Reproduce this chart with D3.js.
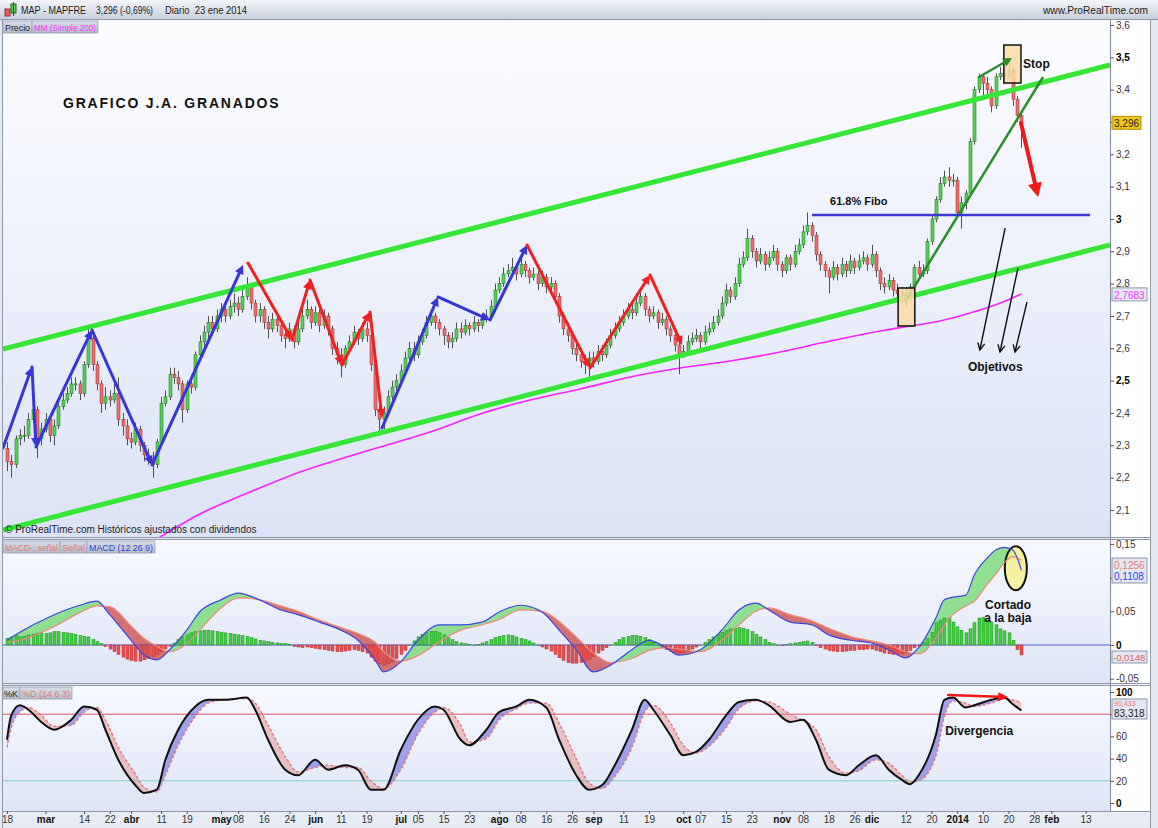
<!DOCTYPE html>
<html><head><meta charset="utf-8">
<script src="https://cdn.jsdelivr.net/npm/d3@7"></script>
<style>body{margin:0;background:#fff;}svg{display:block;font-family:"Liberation Sans",Arial,sans-serif;}</style>
</head><body><svg id="c" width="1158" height="828"></svg>
<script>
// ---------------- DATA ----------------
const holidays=["2013-03-29","2013-04-01","2013-05-01","2013-12-25","2013-12-26","2014-01-01"];
const firstOpen=2.29;
const closes=[
2.25,2.24,2.32,2.33,2.33,2.38,2.41,2.32,2.35,2.38,
2.33,2.36,2.42,2.44,2.46,2.49,2.49,2.46,2.55,2.63,
2.55,2.49,2.43,2.45,2.44,2.46,2.38,2.36,2.32,2.31,
2.35,2.30,2.27,2.26,2.24,2.31,2.43,2.45,2.52,2.51,
2.49,2.41,2.49,2.48,2.58,2.62,2.65,2.68,2.66,2.70,
2.72,2.70,2.73,2.74,2.72,2.76,2.79,2.74,2.70,2.72,
2.68,2.66,2.69,2.67,2.64,2.63,2.66,2.62,2.66,2.70,
2.72,2.68,2.71,2.67,2.70,2.66,2.60,2.58,2.55,2.60,
2.62,2.65,2.63,2.66,2.64,2.55,2.41,2.38,2.40,2.45,
2.48,2.50,2.53,2.57,2.60,2.58,2.62,2.64,2.68,2.70,
2.68,2.66,2.64,2.62,2.63,2.66,2.65,2.67,2.66,2.68,
2.67,2.69,2.70,2.73,2.78,2.80,2.83,2.84,2.85,2.83,
2.86,2.84,2.82,2.83,2.80,2.82,2.79,2.80,2.76,2.70,
2.66,2.64,2.60,2.58,2.56,2.55,2.57,2.56,2.59,2.58,
2.61,2.64,2.66,2.68,2.70,2.72,2.71,2.74,2.76,2.72,
2.70,2.71,2.68,2.69,2.66,2.64,2.61,2.58,2.59,2.62,
2.63,2.64,2.62,2.65,2.66,2.68,2.70,2.74,2.78,2.76,
2.80,2.86,2.88,2.94,2.90,2.87,2.89,2.86,2.88,2.90,
2.86,2.84,2.88,2.86,2.90,2.92,2.96,2.98,2.95,2.89,
2.86,2.84,2.82,2.85,2.83,2.86,2.84,2.87,2.85,2.87,
2.88,2.86,2.89,2.84,2.80,2.79,2.81,2.78,2.77,2.76,
2.77,2.79,2.85,2.83,2.84,2.93,3.00,3.06,3.11,3.13,
3.12,3.12,3.02,3.05,3.08,3.24,3.40,3.44,3.42,3.40,
3.35,3.44,3.45,3.44,3.46,3.37,3.32,3.296];
const highs=[
2.31,2.27,2.33,2.35,2.36,2.40,2.45,2.42,2.37,2.40,
2.39,2.38,2.43,2.46,2.48,2.51,2.51,2.50,2.56,2.66,
2.64,2.56,2.50,2.48,2.47,2.49,2.51,2.40,2.38,2.34,
2.37,2.36,2.31,2.29,2.28,2.32,2.45,2.47,2.54,2.54,
2.53,2.50,2.50,2.52,2.59,2.64,2.67,2.70,2.70,2.72,
2.74,2.74,2.75,2.77,2.76,2.78,2.82,2.80,2.75,2.74,
2.73,2.70,2.71,2.71,2.68,2.66,2.68,2.67,2.68,2.72,
2.75,2.73,2.73,2.72,2.72,2.71,2.67,2.62,2.60,2.61,
2.64,2.67,2.66,2.68,2.68,2.65,2.56,2.42,2.42,2.47,
2.50,2.52,2.55,2.59,2.62,2.62,2.64,2.66,2.70,2.72,
2.71,2.69,2.67,2.65,2.65,2.68,2.68,2.69,2.68,2.70,
2.69,2.71,2.72,2.75,2.80,2.82,2.85,2.86,2.88,2.86,
2.88,2.87,2.85,2.85,2.84,2.84,2.83,2.82,2.81,2.77,
2.71,2.68,2.65,2.62,2.60,2.58,2.59,2.59,2.61,2.61,
2.63,2.66,2.68,2.70,2.72,2.74,2.74,2.76,2.78,2.77,
2.73,2.73,2.72,2.71,2.70,2.67,2.65,2.62,2.61,2.64,
2.65,2.66,2.65,2.67,2.68,2.70,2.72,2.76,2.80,2.79,
2.82,2.88,2.90,2.97,2.95,2.91,2.91,2.90,2.90,2.92,
2.91,2.87,2.89,2.89,2.92,2.94,2.98,3.02,2.99,2.96,
2.90,2.87,2.85,2.87,2.86,2.88,2.87,2.89,2.88,2.89,
2.90,2.89,2.92,2.90,2.85,2.82,2.83,2.82,2.80,2.79,
2.79,2.80,2.86,2.87,2.86,2.94,3.01,3.07,3.13,3.15,
3.16,3.14,3.13,3.07,3.09,3.25,3.41,3.45,3.45,3.44,
3.41,3.45,3.47,3.47,3.49,3.47,3.38,3.33];
const lows=[
2.22,2.20,2.23,2.30,2.31,2.32,2.37,2.26,2.30,2.34,
2.31,2.30,2.35,2.41,2.43,2.45,2.47,2.44,2.45,2.54,
2.53,2.47,2.40,2.41,2.42,2.43,2.36,2.33,2.30,2.29,
2.30,2.28,2.25,2.24,2.20,2.23,2.30,2.42,2.44,2.49,
2.47,2.37,2.40,2.46,2.47,2.56,2.60,2.63,2.64,2.65,
2.68,2.68,2.69,2.71,2.70,2.71,2.75,2.72,2.68,2.68,
2.66,2.63,2.65,2.65,2.62,2.60,2.62,2.60,2.61,2.65,
2.69,2.66,2.67,2.65,2.66,2.64,2.58,2.55,2.51,2.54,
2.59,2.61,2.61,2.62,2.62,2.53,2.39,2.33,2.35,2.39,
2.44,2.46,2.49,2.52,2.56,2.56,2.57,2.61,2.63,2.67,
2.66,2.64,2.61,2.60,2.60,2.62,2.63,2.64,2.64,2.65,
2.65,2.66,2.68,2.69,2.72,2.77,2.79,2.82,2.83,2.81,
2.82,2.82,2.80,2.81,2.78,2.79,2.77,2.78,2.74,2.68,
2.64,2.62,2.58,2.56,2.54,2.52,2.51,2.54,2.55,2.56,
2.57,2.60,2.63,2.65,2.67,2.69,2.69,2.70,2.73,2.70,
2.68,2.69,2.66,2.67,2.64,2.62,2.59,2.52,2.57,2.58,
2.61,2.62,2.60,2.61,2.64,2.65,2.67,2.69,2.73,2.74,
2.75,2.79,2.85,2.87,2.88,2.85,2.86,2.84,2.85,2.87,
2.84,2.82,2.83,2.84,2.85,2.89,2.91,2.95,2.93,2.87,
2.84,2.82,2.77,2.81,2.81,2.82,2.82,2.83,2.83,2.84,
2.86,2.84,2.85,2.82,2.78,2.77,2.78,2.76,2.75,2.74,
2.73,2.75,2.78,2.82,2.82,2.83,2.92,2.99,3.05,3.10,
3.10,3.10,3.01,2.97,3.03,3.07,3.23,3.39,3.38,3.38,
3.33,3.34,3.43,3.43,3.43,3.35,3.30,3.22];
// moving average 200 (day index, value)
const mm200=[[35.75,2.0163],[45.09,2.0875],[56.78,2.1555],[68.46,2.2174],[80.14,2.2669],[87.15,2.2947],[98.83,2.3411],[110.51,2.3968],[122.2,2.4401],[133.88,2.4741],[145.56,2.5113],[157.24,2.5391],[168.93,2.5607],[180.61,2.5886],[192.29,2.6226],[203.97,2.6535],[210.98,2.669],[217.99,2.6845],[225,2.7092],[230.84,2.7339],[234.35,2.7525],[237,2.7683]];
// MACD histogram (MACD - signal), per day
const macdHist=[
0.010,0.012,0.014,0.012,0.013,0.015,0.016,0.017,0.018,0.017,
0.018,0.020,0.020,0.019,0.018,0.017,0.016,0.014,0.013,0.012,
0.008,0.005,0.002,-0.002,-0.006,-0.010,-0.014,-0.018,-0.021,-0.023,
-0.024,-0.024,-0.022,-0.020,-0.017,-0.014,-0.010,-0.006,-0.002,0.003,
0.008,0.012,0.015,0.018,0.020,0.021,0.022,0.022,0.021,0.020,
0.019,0.018,0.017,0.016,0.015,0.014,0.013,0.011,0.009,0.007,
0.006,0.005,0.004,0.003,0.002,0.002,0.001,-0.002,-0.003,-0.004,
-0.003,-0.004,-0.005,-0.006,-0.007,-0.008,-0.009,-0.010,-0.010,-0.009,
-0.008,-0.007,-0.008,-0.010,-0.012,-0.018,-0.024,-0.028,-0.030,-0.028,
-0.025,-0.020,-0.014,-0.008,0.000,0.006,0.012,0.016,0.019,0.020,
0.020,0.018,0.015,0.011,0.008,0.005,0.003,0.002,0.001,0.000,
0.001,0.003,0.005,0.008,0.011,0.013,0.014,0.015,0.014,0.012,
0.010,0.008,0.006,0.003,0.000,-0.003,-0.006,-0.009,-0.014,-0.019,
-0.023,-0.026,-0.027,-0.027,-0.026,-0.024,-0.021,-0.017,-0.012,-0.008,
-0.004,0.000,0.004,0.008,0.011,0.013,0.014,0.014,0.013,0.011,
0.008,0.004,0.000,-0.004,-0.007,-0.009,-0.011,-0.012,-0.011,-0.009,
-0.006,-0.003,0.000,0.004,0.008,0.012,0.016,0.019,0.022,0.024,
0.025,0.026,0.025,0.023,0.020,0.016,0.012,0.008,0.004,0.002,
0.000,-0.001,0.001,0.002,0.003,0.004,0.005,0.006,0.004,-0.001,
-0.004,-0.006,-0.008,-0.009,-0.010,-0.010,-0.009,-0.008,-0.008,-0.007,
-0.007,-0.006,-0.006,-0.008,-0.010,-0.012,-0.013,-0.014,-0.014,-0.013,
-0.011,-0.008,-0.004,-0.002,0.004,0.010,0.019,0.033,0.037,0.040,
0.040,0.034,0.027,0.022,0.018,0.024,0.033,0.040,0.041,0.037,
0.034,0.030,0.024,0.021,0.018,0.007,-0.007,-0.0148];
// MACD line & signal, sampled on day indices
const macdIdx=[0,3,10,17,21,24,29,32,35,38,42,45,50,54,59,64,68,73,78,82,86,88,92,96,101,106,111,115,120,125,129,133,137,141,146,150,154,157,162,167,171,175,178,183,188,192,197,202,206,210,213,217,219,221,224,226,229,231,233,235,237];
const macdLine=[0.007,0.019,0.042,0.059,0.065,0.045,0.007,-0.015,-0.022,-0.007,0.022,0.049,0.067,0.077,0.067,0.052,0.045,0.034,0.022,0.007,-0.022,-0.040,-0.025,0.007,0.030,0.030,0.034,0.049,0.059,0.049,0.022,-0.007,-0.040,-0.030,-0.007,0.007,-0.004,-0.015,-0.007,0.022,0.052,0.062,0.052,0.034,0.030,0.015,0.007,0.003,-0.007,-0.019,-0.004,0.040,0.067,0.071,0.074,0.104,0.129,0.141,0.145,0.141,0.1108];
const signalLine=[0.004,0.007,0.024,0.048,0.058,0.057,0.028,0.010,-0.002,-0.010,0.002,0.022,0.055,0.070,0.067,0.058,0.050,0.037,0.026,0.017,0.004,-0.010,-0.024,-0.016,0.005,0.022,0.030,0.038,0.052,0.050,0.035,0.012,-0.012,-0.026,-0.020,-0.008,-0.004,-0.006,-0.010,0.007,0.030,0.050,0.055,0.045,0.036,0.025,0.013,0.006,0.000,-0.010,-0.013,0.010,0.030,0.045,0.058,0.065,0.090,0.105,0.122,0.131,0.1256];
// Stochastic %K / %D (14 6 3), sampled on day indices
const stochIdx=[0,1,3,5,8,11,15,18,21,23,26,30,32,35,37,40,44,47,51,56,58,61,65,68,72,75,79,82,85,88,92,96,100,102,106,108,112,115,119,122,126,129,133,136,139,142,146,149,151,155,158,161,164,168,171,175,178,183,186,189,192,196,199,203,206,209,211,213,217,219,221,224,226,230,233,235,237];
const stochK=[57,79,88,84,73,66,75,87,84,66,39,16,9,12,39,66,87,93,93,95,84,57,30,25,39,30,34,30,12,12,48,75,87,84,57,52,66,82,87,93,86,57,25,12,16,34,66,93,84,61,43,46,57,79,91,93,88,73,75,57,30,25,34,43,30,21,17,25,61,93,95,86,88,93,95,89,83.318];
const stochD=[50,68,82,86,79,69,70,82,86,75,50,26,14,10,25,52,78,90,93,94,90,70,42,28,32,34,32,32,20,13,30,62,82,86,70,55,58,75,85,90,90,72,40,18,13,24,50,82,88,72,52,45,51,68,85,92,91,80,74,66,42,27,29,39,36,25,19,20,42,78,92,90,87,90,94,93,90.433];
// axis ticks
const priceTicks=[2.1,2.2,2.3,2.4,2.5,2.6,2.7,2.8,2.9,3.0,3.1,3.2,3.3,3.4,3.5,3.6];
const macdTicks=[-0.05,0,0.05,0.1,0.15];
const stochTicks=[0,20,40,60,80,100];
const dateTicks=[["2013-02-18","18"],["2013-03-01","mar"],["2013-03-14","14"],["2013-03-22","22"],["2013-04-02","abr"],["2013-04-11","11"],["2013-04-19","19"],["2013-05-02","may"],["2013-05-08","08"],["2013-05-16","16"],["2013-05-24","24"],["2013-06-03","jun"],["2013-06-11","11"],["2013-06-19","19"],["2013-07-01","jul"],["2013-07-05","05"],["2013-07-15","15"],["2013-07-23","23"],["2013-08-01","ago"],["2013-08-08","08"],["2013-08-16","16"],["2013-08-26","26"],["2013-09-02","sep"],["2013-09-11","11"],["2013-09-19","19"],["2013-10-01","oct"],["2013-10-07","07"],["2013-10-15","15"],["2013-10-23","23"],["2013-11-01","nov"],["2013-11-08","08"],["2013-11-18","18"],["2013-11-26","26"],["2013-12-02","dic"],["2013-12-12","12"],["2013-12-20","20"],["2014-01-02","2014"],["2014-01-10","10"],["2014-01-20","20"],["2014-01-28","28"],["2014-02-03","feb"],["2014-02-13","13"]];
// hand-drawn annotations in (day index, price)
const blueArrows=[[[-0.93,2.2916],[5.84,2.5422]],[[5.84,2.5422],[6.78,2.2947]],[[6.78,2.2947],[19.86,2.6566]],[[19.86,2.6566],[33.88,2.239]],[[33.88,2.239],[55.14,2.8577]],[[87.62,2.3535],[100.7,2.7587]],[[100.7,2.7587],[112.85,2.6875]],[[112.85,2.6875],[121.5,2.9195]]];
const redArrows=[[[56.31,2.8638],[66.59,2.6257]],[[66.59,2.6257],[70.79,2.8113]],[[70.79,2.8113],[78.27,2.5484]],[[78.27,2.5484],[84.81,2.7123]],[[84.81,2.7123],[87.62,2.3844]],[[121.5,2.9195],[136.21,2.5391]],[[136.21,2.5391],[150.23,2.8268]],[[150.23,2.8268],[157.71,2.6102]]];
const channelUpper=[[-0.93,2.5978],[257.7,3.4763]];
const channelLower=[[-0.93,2.038],[257.7,2.9195]];
const trendLine=[[209.81,2.7432],[242.06,3.4392]];
const greenArrow=[[227.1,3.4392],[234.8,3.4979]];
const boxes=[[[232.9,3.5381],[236.9,3.4206]],[[208.2,2.7865],[212.1,2.669]]];
const redDown=[[236.9,3.2969],[240.9,3.068]];
const fiboLine=[[188.08,3.0123],[253.04,3.0123]];
const targetLines=[[[233.2,2.9721],[227.3,2.5947]],[[236.2,2.8484],[232.0,2.5886]],[[238.3,2.7432],[235.5,2.5886]]];
const divArrow=[[219.9,97.3],[233.9,95.5]];

// ---------------- SCALES ----------------
const L=3,R=1110;
const days=[];
for(let d=new Date(Date.UTC(2013,1,18));d<=new Date(Date.UTC(2014,2,3));d.setUTCDate(d.getUTCDate()+1)){
  const wd=d.getUTCDay(),s=d.toISOString().slice(0,10);
  if(wd>0&&wd<6&&!holidays.includes(s))days.push(s);
}
const x=d3.scaleLinear().domain([-0.93,257.7]).range([L,R]);
const yP=d3.scaleLinear().domain([2.0163,3.6155]).range([537,20]);
const yM=d3.scaleLinear().domain([-0.0564,0.1573]).range([683,539]);
const yS=d3.scaleLinear().domain([-7.2,105.4]).range([811,686]);

const svg=d3.select("#c");
const defs=svg.append("defs");
function vgrad(id,c1,c2){const g=defs.append("linearGradient").attr("id",id).attr("x1",0).attr("y1",0).attr("x2",0).attr("y2",1);g.append("stop").attr("offset","0%").attr("stop-color",c1);g.append("stop").attr("offset","100%").attr("stop-color",c2);}
vgrad("gHead","#f4f6fa","#c8d0dc");
vgrad("gPanel","#fcfdff","#dce3f6");
vgrad("gSub","#f7f9ff","#dfe5f6");
vgrad("gTag","#d9dee6","#b3bcc9");
function clip(id,y0,y1){defs.append("clipPath").attr("id",id).append("rect").attr("x",L).attr("y",y0).attr("width",R-L).attr("height",y1-y0);}
clip("cpP",20,537);clip("cpM",540,683);clip("cpS",686,811);

svg.append("rect").attr("width",1158).attr("height",828).attr("fill","#e4e9f2");
// header
svg.append("rect").attr("x",0).attr("y",0).attr("width",1158).attr("height",19).attr("fill","url(#gHead)");
svg.append("line").attr("x1",0).attr("x2",1158).attr("y1",19.5).attr("y2",19.5).attr("stroke","#8d97a8");
svg.append("rect").attr("x",5).attr("y",9).attr("width",5).attr("height",7).attr("fill","#e85c5c").attr("stroke","#933");
svg.append("rect").attr("x",11).attr("y",4).attr("width",5).attr("height",9).attr("fill","#4fd14f").attr("stroke","#262");
svg.append("line").attr("x1",13.5).attr("x2",13.5).attr("y1",2).attr("y2",16).attr("stroke","#262");
const hdr=svg.append("g").attr("font-size",10.5).attr("fill","#1a1a1a");
function fitText(g,x0,y0,w,t){return g.append("text").attr("x",x0).attr("y",y0).attr("textLength",w).attr("lengthAdjust","spacingAndGlyphs").attr("style","white-space:pre").text(t);}
fitText(hdr,21,14,65,"MAP - MAPFRE");
fitText(hdr,96,14,57,"3,296 (-0,69%)");
fitText(hdr,165,14,82,"Diario  23 ene 2014");
fitText(hdr,1043,14,105,"www.ProRealTime.com");

// panels
[[20,537],[540,683],[686,811]].forEach((p,i)=>{
  svg.append("rect").attr("x",L).attr("y",p[0]).attr("width",R-L).attr("height",p[1]-p[0]).attr("fill",i?"url(#gSub)":"url(#gPanel)");
});
svg.append("rect").attr("x",R).attr("y",20).attr("width",40).attr("height",791).attr("fill","#ffffff");
svg.append("rect").attr("x",L).attr("y",811).attr("width",1147).attr("height",15).attr("fill","#e8ecf5");
[537.5,539.5,683.5,685.5,811.5].forEach(yy=>svg.append("line").attr("x1",L).attr("x2",1150).attr("y1",yy).attr("y2",yy).attr("stroke","#8d97a8"));
svg.append("line").attr("x1",R+0.5).attr("x2",R+0.5).attr("y1",20).attr("y2",811).attr("stroke","#7d879a");
svg.append("line").attr("x1",1150.5).attr("x2",1150.5).attr("y1",20).attr("y2",828).attr("stroke","#8d97a8");
svg.append("line").attr("x1",2.5).attr("x2",2.5).attr("y1",20).attr("y2",828).attr("stroke","#8d97a8");

// ---------------- PRICE PANEL ----------------
const gP=svg.append("g").attr("clip-path","url(#cpP)");
const line=d3.line().x(d=>x(d[0])).y(d=>yP(d[1]));
gP.append("path").attr("d",d3.line().x(d=>x(d[0])).y(d=>yP(d[1])).curve(d3.curveMonotoneX)(mm200)).attr("fill","none").attr("stroke","#ff22ff").attr("stroke-width",1.6);

const opens=closes.map((c,i)=>i===0?firstOpen:closes[i-1]);
const cd=closes.map((c,i)=>({i,o:opens[i],c,h:highs[i],l:lows[i]}));
gP.append("g").selectAll("line").data(cd).join("line")
  .attr("x1",d=>Math.round(x(d.i))+0.5).attr("x2",d=>Math.round(x(d.i))+0.5)
  .attr("y1",d=>yP(d.h)).attr("y2",d=>yP(d.l)).attr("stroke","#505050").attr("stroke-width",1);
gP.append("g").selectAll("rect").data(cd).join("rect")
  .attr("x",d=>Math.round(x(d.i))-1).attr("width",3)
  .attr("y",d=>yP(Math.max(d.o,d.c))).attr("height",d=>Math.max(1,yP(Math.min(d.o,d.c))-yP(Math.max(d.o,d.c))))
  .attr("fill",d=>d.c>=d.o?"#52d452":"#ee6c6c").attr("stroke",d=>d.c>=d.o?"#2e7d2e":"#a04040").attr("stroke-width",0.6);

// channel & trend lines
[channelUpper,channelLower].forEach(c=>gP.append("path").attr("d",line(c)).attr("stroke","#35e635").attr("stroke-width",5).attr("fill","none"));
gP.append("path").attr("d",line(trendLine)).attr("stroke","#2a8c2a").attr("stroke-width",2.5).attr("fill","none");
gP.append("path").attr("d",line(fiboLine)).attr("stroke","#3a3ad0").attr("stroke-width",2.5).attr("fill","none");
boxes.forEach(b=>gP.append("rect").attr("x",x(b[0][0])).attr("y",yP(b[0][1])).attr("width",x(b[1][0])-x(b[0][0])).attr("height",yP(b[1][1])-yP(b[0][1])).attr("fill","#fbd9a6").attr("fill-opacity",0.85).attr("stroke","#111").attr("stroke-width",1.5));

function arrow(g,p1,p2,color,w,hl,hw){
  const a=Math.atan2(p2[1]-p1[1],p2[0]-p1[0]);
  const bx=p2[0]-hl*Math.cos(a),by=p2[1]-hl*Math.sin(a);
  g.append("line").attr("x1",p1[0]).attr("y1",p1[1]).attr("x2",bx+Math.cos(a)).attr("y2",by+Math.sin(a)).attr("stroke",color).attr("stroke-width",w).attr("stroke-linecap","round");
  const pts=[[p2[0],p2[1]],[bx+hw*Math.sin(a),by-hw*Math.cos(a)],[bx-hw*Math.sin(a),by+hw*Math.cos(a)]];
  g.append("polygon").attr("points",pts.map(p=>p.join(",")).join(" ")).attr("fill",color);
}
function openArrow(g,p1,p2,color,w,hl,hw){
  const a=Math.atan2(p2[1]-p1[1],p2[0]-p1[0]);
  const bx=p2[0]-hl*Math.cos(a),by=p2[1]-hl*Math.sin(a);
  g.append("line").attr("x1",p1[0]).attr("y1",p1[1]).attr("x2",p2[0]).attr("y2",p2[1]).attr("stroke",color).attr("stroke-width",w);
  const pts=[[bx+hw*Math.sin(a),by-hw*Math.cos(a)],[p2[0],p2[1]],[bx-hw*Math.sin(a),by+hw*Math.cos(a)]];
  g.append("polyline").attr("points",pts.map(p=>p.join(",")).join(" ")).attr("fill","none").attr("stroke",color).attr("stroke-width",w);
}
const P=d=>[x(d[0]),yP(d[1])];
blueArrows.forEach(s=>arrow(gP,P(s[0]),P(s[1]),"#3535d8",3,9,4.5));
redArrows.forEach(s=>arrow(gP,P(s[0]),P(s[1]),"#f02020",3,9,4.5));
arrow(gP,P(greenArrow[0]),P(greenArrow[1]),"#2a8c2a",2.5,9,4.5);
arrow(gP,P(redDown[0]),P(redDown[1]),"#f01818",4,14,7);
targetLines.forEach(s=>openArrow(gP,P(s[0]),P(s[1]),"#111",1.4,7,3.5));

const tp=svg.append("g").attr("font-weight","bold").attr("fill","#111");
tp.append("text").attr("x",x(13.08)).attr("y",yP(3.343)).attr("font-size",14).attr("letter-spacing",1.8).text("GRAFICO J.A. GRANADOS");
tp.append("text").attr("x",x(192.3)).attr("y",yP(3.043)).attr("font-size",11).text("61.8% Fibo");
tp.append("text").attr("x",x(237.4)).attr("y",yP(3.467)).attr("font-size",12).text("Stop");
tp.append("text").attr("x",x(224.5)).attr("y",yP(2.53)).attr("font-size",12).text("Objetivos");
svg.append("text").attr("x",5).attr("y",533).attr("font-size",10).attr("fill","#222").text("© ProRealTime.com  Históricos ajustados con dividendos");

// tags
function tag(x0,y0,w,h,fill){svg.append("rect").attr("x",x0).attr("y",y0).attr("width",w).attr("height",h).attr("fill",fill).attr("stroke","#98a2b2").attr("stroke-width",0.8);}
tag(3,21,29,12,"url(#gTag)");tag(32,21,66,12,"url(#gTag)");
const tg=svg.append("g").attr("font-size",9.5);
fitText(tg,5,31,25,"Precio").attr("fill","#222");
fitText(tg,34,31,62,"MM (Simple 200)").attr("fill","#ff33ff");

// price axis
const fmtC=v=>String(+v.toFixed(3)).replace(".",",");
function styleAxis(ax,bolds,hidden){ax.select(".domain").remove();ax.selectAll(".tick line").attr("stroke","#555");
  ax.selectAll(".tick text").attr("font-size",10).attr("font-family","Liberation Sans, Arial").attr("x",6)
  .attr("font-weight",d=>bolds.includes(d)?"bold":"normal").attr("fill",d=>bolds.includes(d)?"#000":"#3a3340");
  ax.selectAll(".tick text").filter(d=>hidden.includes(d)).remove();}
const axP=svg.append("g").attr("transform",`translate(${R},0)`).call(d3.axisRight(yP).tickValues(priceTicks).tickSize(4).tickFormat(fmtC));
styleAxis(axP,[2.5,3.0,3.5],[3.3]);
// current price tags
svg.append("rect").attr("x",1112).attr("y",yP(3.296)-7).attr("width",29).attr("height",13).attr("fill","#f2c41c").attr("stroke","#b48f00");
svg.append("text").attr("x",1114).attr("y",yP(3.296)+4).attr("font-size",10).attr("fill","#222").text("3,296");
svg.append("rect").attr("x",1112).attr("y",yP(2.7683)-6).attr("width",35).attr("height",13).attr("fill","#e6eaf4").attr("stroke","#8c96a8");
svg.append("text").attr("x",1114).attr("y",yP(2.7683)+5).attr("font-size",10).attr("fill","#ff33ff").text("2,7683");

// ---------------- MACD PANEL ----------------
const gM=svg.append("g").attr("clip-path","url(#cpM)");
const mp=macdIdx.map((d,i)=>({i:d,m:macdLine[i],s:signalLine[i]}));
const cv=d3.curveMonotoneX;
defs.append("clipPath").attr("id","mAbove").append("path").attr("d",d3.area().x(d=>x(d.i)).y0(540).y1(d=>yM(d.s)).curve(cv)(mp));
defs.append("clipPath").attr("id","mBelow").append("path").attr("d",d3.area().x(d=>x(d.i)).y0(683).y1(d=>yM(d.s)).curve(cv)(mp));
const band=d3.area().x(d=>x(d.i)).y0(d=>yM(d.s)).y1(d=>yM(d.m)).curve(cv);
gM.append("g").attr("clip-path","url(#mAbove)").append("path").attr("d",band(mp)).attr("fill","#7fdc7f").attr("fill-opacity",0.85);
gM.append("g").attr("clip-path","url(#mBelow)").append("path").attr("d",band(mp)).attr("fill","#d05a5a").attr("fill-opacity",0.85);
gM.append("line").attr("x1",L).attr("x2",R).attr("y1",yM(0)).attr("y2",yM(0)).attr("stroke","#5060e0").attr("stroke-width",1);
gM.append("g").selectAll("rect").data(macdHist).join("rect")
  .attr("x",(d,i)=>Math.round(x(i))-1).attr("width",3)
  .attr("y",d=>d>=0?yM(d):yM(0)).attr("height",d=>Math.max(0.5,Math.abs(yM(d)-yM(0))))
  .attr("fill",d=>d>=0?"#3fcf3f":"#e85050").attr("stroke",d=>d>=0?"#2a8a2a":"#b03030").attr("stroke-width",0.5);
gM.append("ellipse").attr("cx",x(235.7)).attr("cy",yM(0.114)).attr("rx",11).attr("ry",22).attr("fill","#f6f08a").attr("fill-opacity",0.8).attr("stroke","#111").attr("stroke-width",2);
gM.append("path").attr("d",d3.line().x(d=>x(d.i)).y(d=>yM(d.s)).curve(cv)(mp)).attr("fill","none").attr("stroke","#f08a7a").attr("stroke-width",1.2);
gM.append("path").attr("d",d3.line().x(d=>x(d.i)).y(d=>yM(d.m)).curve(cv)(mp)).attr("fill","none").attr("stroke","#3a46e0").attr("stroke-width",1.2);
const tm=svg.append("g").attr("font-weight","bold").attr("fill","#111").attr("font-size",12);
tm.append("text").attr("x",x(228.5)).attr("y",yM(0.0534)).text("Cortado");
tm.append("text").attr("x",x(228.3)).attr("y",yM(0.0341)).text("a la baja");
tag(3,541,57,12,"url(#gTag)");tag(60,541,27,12,"url(#gTag)");tag(87,541,68,12,"url(#gTag)");
const tgm=svg.append("g").attr("font-size",9.5);
fitText(tgm,5,551,53,"MACD-, señal").attr("fill","#e87878");
fitText(tgm,62,551,23,"Señal").attr("fill","#e87878");
fitText(tgm,89,551,64,"MACD (12 26 9)").attr("fill","#3344dd");
const axM=svg.append("g").attr("transform",`translate(${R},0)`).call(d3.axisRight(yM).tickValues(macdTicks).tickSize(4).tickFormat(fmtC));
styleAxis(axM,[0],[0.1]);
svg.append("rect").attr("x",1112).attr("y",558).attr("width",35).attr("height",25).attr("fill","#e2e7f1").attr("stroke","#8c96a8");
svg.append("text").attr("x",1114).attr("y",569).attr("font-size",10).attr("fill","#e87878").text("0,1256");
svg.append("text").attr("x",1114).attr("y",580).attr("font-size",10).attr("fill","#3344dd").text("0,1108");
svg.append("rect").attr("x",1112).attr("y",651).attr("width",35).attr("height",12).attr("fill","#e2e7f1").attr("stroke","#8c96a8");
svg.append("text").attr("x",1113).attr("y",661).attr("font-size",9.5).attr("fill","#e06060").text("-0,0148");

// ---------------- STOCHASTIC PANEL ----------------
const gS=svg.append("g").attr("clip-path","url(#cpS)");
[[80,"#e8506a"],[20,"#7ad0c8"]].forEach(l=>gS.append("line").attr("x1",L).attr("x2",R).attr("y1",yS(l[0])).attr("y2",yS(l[0])).attr("stroke",l[1]).attr("stroke-width",1));
const sp=stochIdx.map((d,i)=>({i:d,k:stochK[i],d:stochD[i]}));
defs.append("clipPath").attr("id","sAbove").append("path").attr("d",d3.area().x(d=>x(d.i)).y0(686).y1(d=>yS(d.d)).curve(cv)(sp));
defs.append("clipPath").attr("id","sBelow").append("path").attr("d",d3.area().x(d=>x(d.i)).y0(811).y1(d=>yS(d.d)).curve(cv)(sp));
const sband=d3.area().x(d=>x(d.i)).y0(d=>yS(d.d)).y1(d=>yS(d.k)).curve(cv);
gS.append("g").attr("clip-path","url(#sAbove)").append("path").attr("d",sband(sp)).attr("fill","#6a6ae0").attr("fill-opacity",0.6);
gS.append("g").attr("clip-path","url(#sBelow)").append("path").attr("d",sband(sp)).attr("fill","#e89090").attr("fill-opacity",0.5);
gS.append("path").attr("d",d3.line().x(d=>x(d.i)).y(d=>yS(d.d)).curve(cv)(sp)).attr("fill","none").attr("stroke","#e07a7a").attr("stroke-width",1.4).attr("stroke-dasharray","3,2");
gS.append("path").attr("d",d3.line().x(d=>x(d.i)).y(d=>yS(d.k)).curve(cv)(sp)).attr("fill","none").attr("stroke","#111").attr("stroke-width",2);
arrow(gS,[x(divArrow[0][0]),yS(divArrow[0][1])],[x(divArrow[1][0]),yS(divArrow[1][1])],"#f01818",2.5,10,4.5);
svg.append("text").attr("x",x(219.2)).attr("y",yS(61.3)).attr("font-weight","bold").attr("font-size",12).attr("fill","#111").text("Divergencia");
tag(3,687,17,12,"url(#gTag)");tag(20,687,52,12,"url(#gTag)");
const tgs=svg.append("g").attr("font-size",9.5);
fitText(tgs,4,697,14,"%K").attr("fill","#222");
fitText(tgs,22,697,48,"%D (14 6 3)").attr("fill","#e87878");
const axS=svg.append("g").attr("transform",`translate(${R},0)`).call(d3.axisRight(yS).tickValues(stochTicks).tickSize(4).tickFormat(d=>d));
styleAxis(axS,[0,100],[80]);
svg.append("rect").attr("x",1112).attr("y",699).attr("width",35).attr("height",20).attr("fill","#e2e7f1").attr("stroke","#8c96a8");
svg.append("text").attr("x",1114).attr("y",706).attr("font-size",7).attr("fill","#e87878").text("90,433");
svg.append("text").attr("x",1114).attr("y",717).attr("font-size",10).attr("fill","#222").text("83,318");

// ---------------- X AXIS ----------------
const months=["mar","abr","may","jun","jul","ago","sep","oct","nov","dic","2014","feb"];
const tIdx=dateTicks.map(t=>days.indexOf(t[0]));
const axX=svg.append("g").attr("transform","translate(0,811)").call(d3.axisBottom(x).tickValues(tIdx).tickSize(3).tickFormat((d,i)=>dateTicks[i][1]));
axX.select(".domain").remove();
axX.selectAll(".tick line").attr("stroke","#555");
axX.selectAll(".tick text").attr("y",5).attr("font-size",10).attr("font-family","Liberation Sans, Arial")
  .attr("font-weight",(d,i)=>months.includes(dateTicks[i][1])?"bold":"normal")
  .attr("fill",(d,i)=>months.includes(dateTicks[i][1])?"#111":"#333");
</script></body></html>
